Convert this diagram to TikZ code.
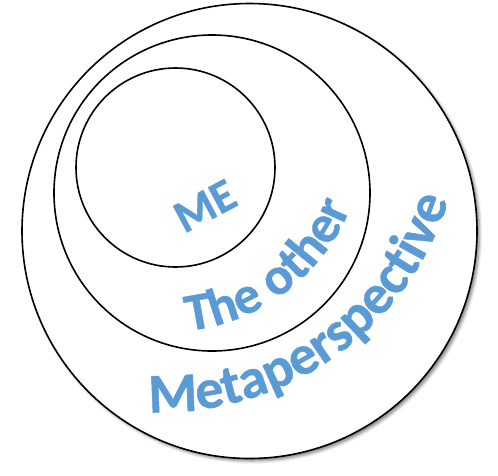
\documentclass[tikz,border=0pt]{standalone}
\usepackage{fontspec}
\setmainfont{Carlito}
\newfontfamily\labelfamily{Carlito}[BoldFeatures={FakeBold=0.8}]
\usetikzlibrary{decorations.text,shadows.blur}
\definecolor{labelblue}{RGB}{91, 155, 213}
\newcommand{\ringfont}[1]{\labelfamily\fontsize{#1}{#1}\selectfont\bfseries\color{labelblue}}

\begin{document}
\begin{tikzpicture}[x=1pt, y=1pt,
		ring/.style={draw=black, line width=1.6pt},
		curvedlabel/.style={decorate, decoration={text along path, text align=center, text={#1}}}]
			\useasboundingbox (0, 0) rectangle (498, -475);
			\filldraw [ring, fill=white, blur shadow={shadow xshift=2.5pt, shadow yshift=-2.5pt, shadow blur radius=3pt, shadow opacity=50}] (249.5, -231) circle[radius=227.5];
			\draw [ring] (212, -193) circle[radius=158];
			\draw [ring] (175.5, -167.5) circle[radius=99.5];
			\node [rotate=28, font=\ringfont{46}] (me) at (205, -206) {ME};
			\path [curvedlabel={|\ringfont{53}|The other}] (166, -133) ++(-84.5:199) arc[start angle=-84.5, end angle=-21, radius=199];
			\path [curvedlabel={|\ringfont{56}|Metaperspective}] (161, -111) ++(-92:301) arc[start angle=-92, end angle=-17.5, radius=301];
		\end{tikzpicture}
\end{document}
